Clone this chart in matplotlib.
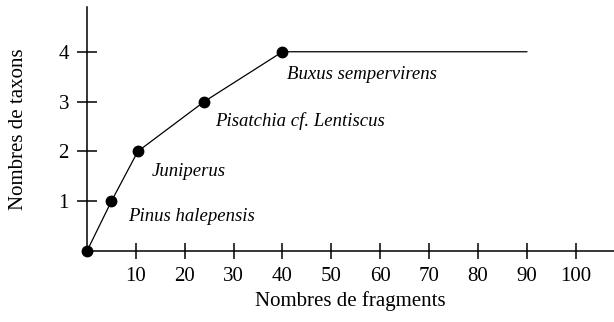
import matplotlib.pyplot as plt

# Données
fragments = [0, 5, 10.4, 24, 40, 90]
taxons = [0, 1, 2, 3, 4, 4]
points_x = [0, 5, 10.4, 24, 40]
points_y = [0, 1, 2, 3, 4]
noms = ['Pinus halepensis', 'Juniperus', 'Pisatchia cf. Lentiscus', 'Buxus sempervirens']
x_ticks = [10, 20, 30, 40, 50, 60, 70, 80, 90, 100]
y_ticks = [1, 2, 3, 4]

plt.rcParams['font.family'] = ['Liberation Serif', 'DejaVu Serif']
plt.rcParams['font.size'] = 15

fig = plt.figure(figsize=(6.14, 3.22), dpi=100)
ax = fig.add_axes([0.1417, 0.2205, 0.858, 0.758])

ax.plot(fragments, taxons, color='black', linewidth=0.9, clip_on=False)
ax.plot(points_x, points_y, 'o', color='black', markersize=7.5, clip_on=False, zorder=5)

# Étiquettes des taxons
decalages = [(3.4, -0.3), (2.9, -0.41), (2.2, -0.4), (0.9, -0.46)]
for (x, y), nom, (dx, dy) in zip(zip(points_x[1:], points_y[1:]), noms, decalages):
    ax.text(x + dx, y + dy, nom, style='italic', fontsize=13.5, ha='left', va='center')

ax.set_xlim(0, 107.8)
ax.set_ylim(0, 4.9)
ax.set_xticks(x_ticks)
ax.set_yticks(y_ticks)
ax.spines['top'].set_visible(False)
ax.spines['right'].set_visible(False)
ax.spines['left'].set_linewidth(1.1)
ax.spines['bottom'].set_linewidth(1.1)
ax.tick_params(axis='y', direction='inout', length=14, width=1.1, pad=6)
ax.tick_params(axis='x', direction='inout', length=11, width=1.1, pad=6)

ax.set_xlabel('Nombres de fragments', labelpad=4)
ax.set_ylabel('Nombres de taxons', labelpad=22)

plt.savefig('out.png', dpi=100)
